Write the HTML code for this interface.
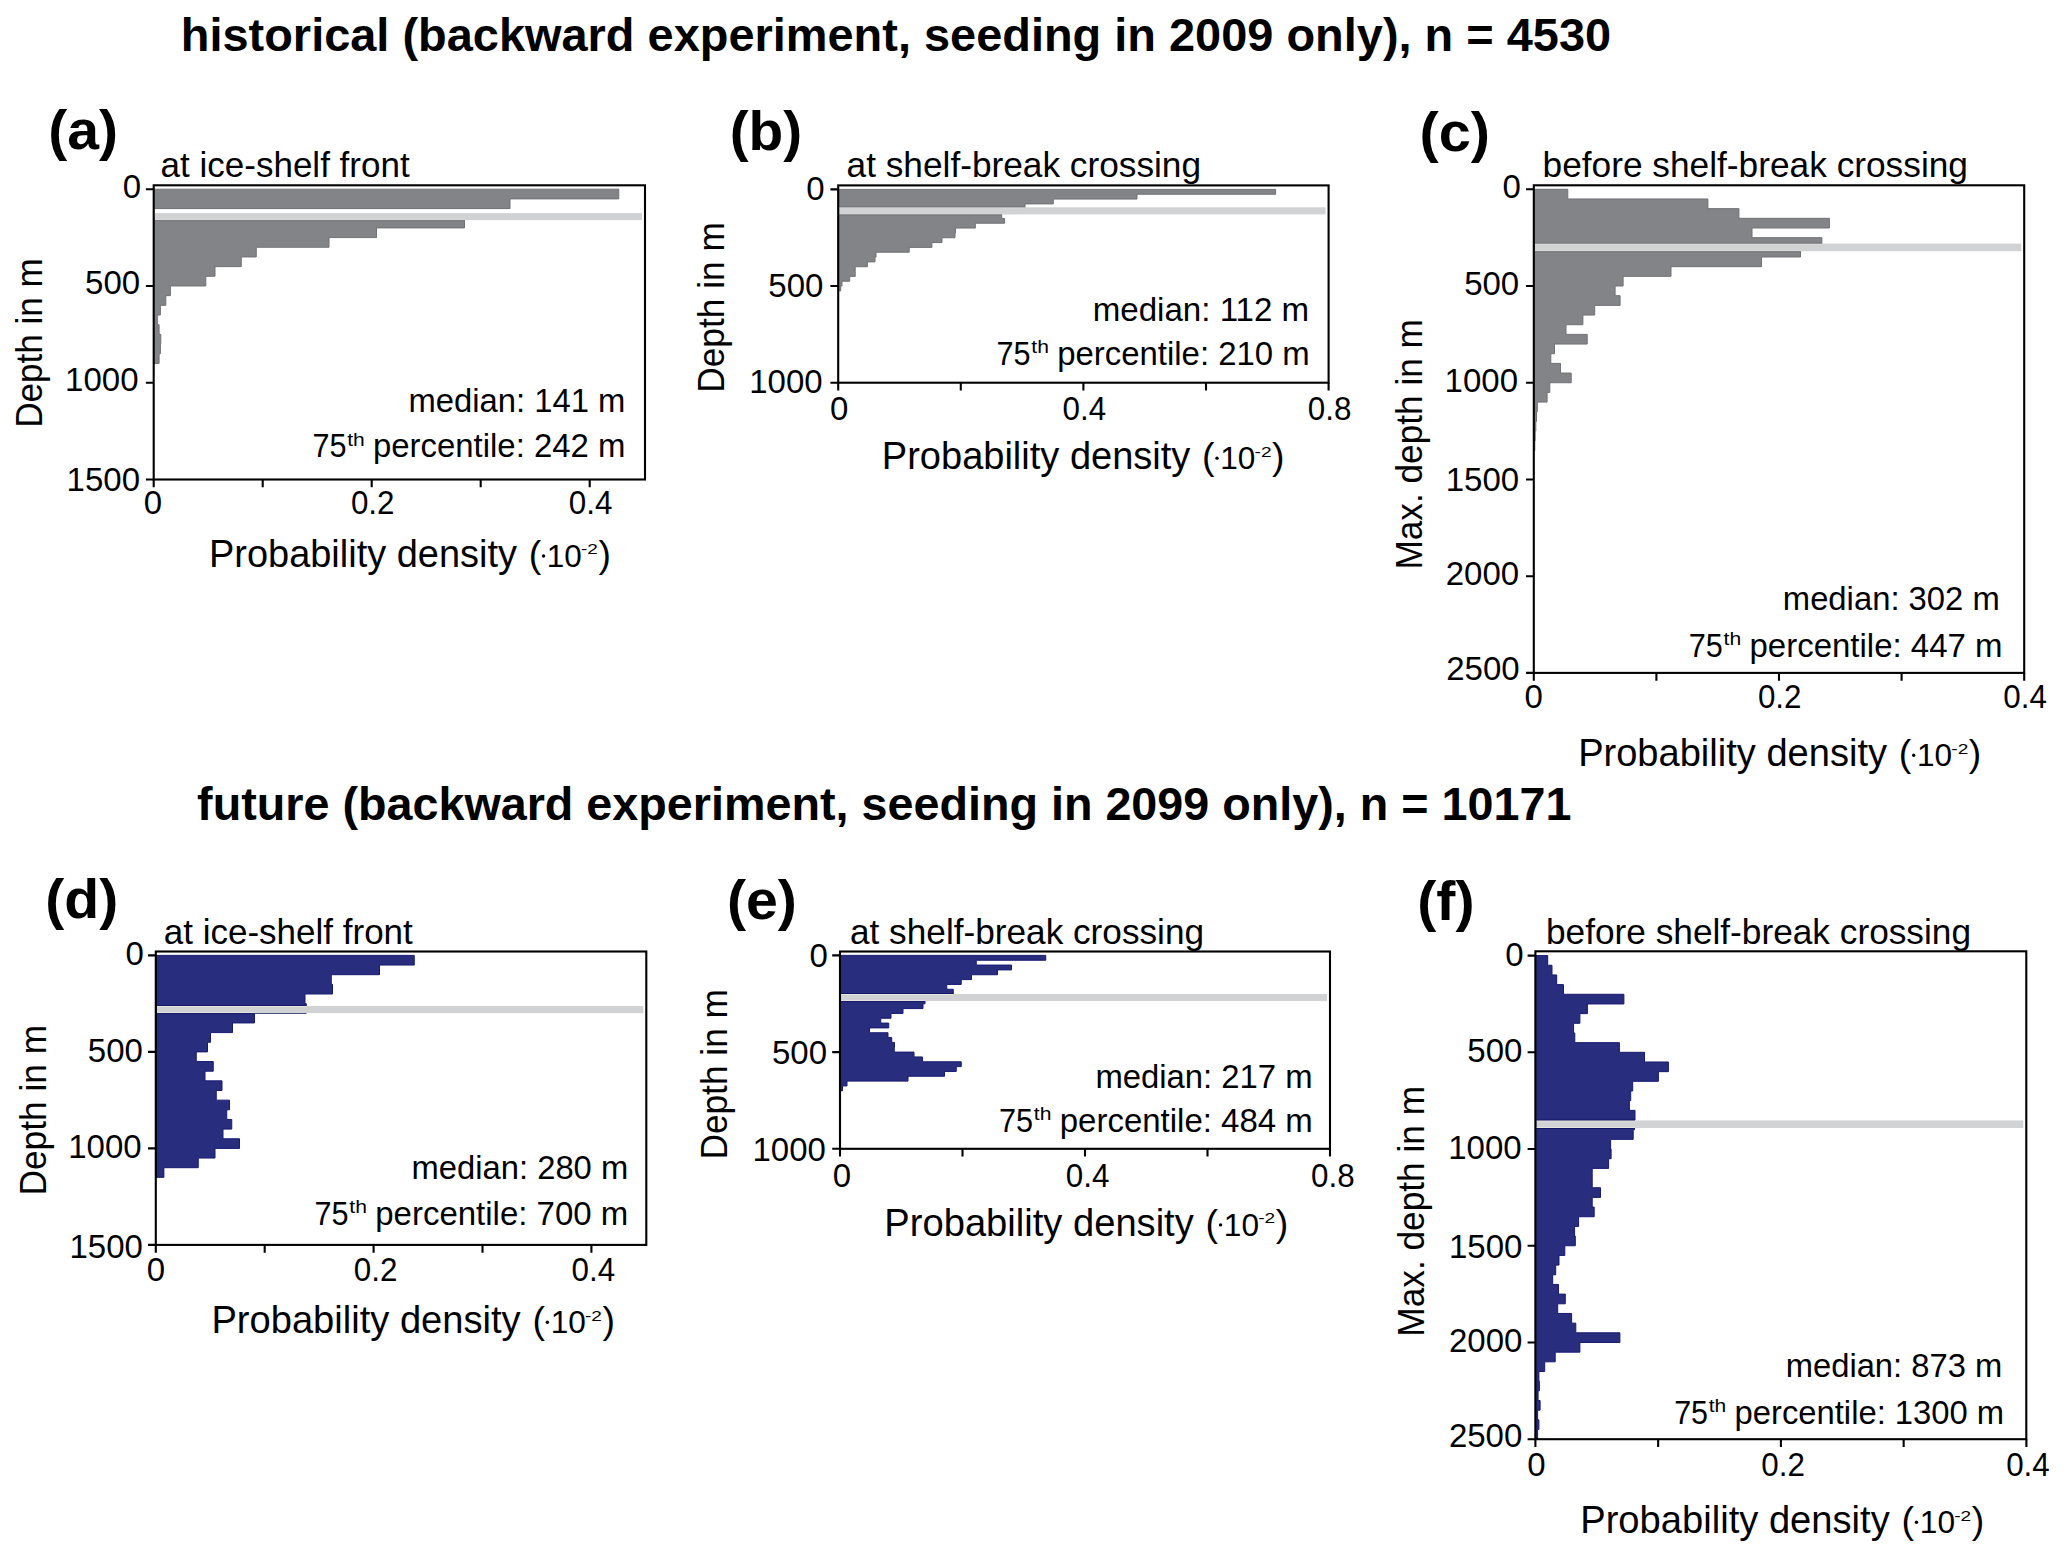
<!DOCTYPE html>
<html><head><meta charset="utf-8"><title>Depth histograms</title>
<style>
html,body{margin:0;padding:0;background:#fff;}
body{width:2067px;height:1560px;overflow:hidden;}
svg{display:block;}
text{font-family:"Liberation Sans", sans-serif;fill:#000;}
</style></head>
<body>
<svg width="2067" height="1560" viewBox="0 0 2067 1560">
<rect width="2067" height="1560" fill="#fff"/>
<path fill="#838488" stroke="#707175" stroke-width="1" stroke-linejoin="miter" d="M153.7 189.2H618.75V198.88H510V208.55H153.7V218.23H464.5V227.91H376.5V237.58H329V247.26H256.25V256.94H241.25V266.61H215V276.29H205.8V285.97H170.4V295.64H165.8V305.32H160.4V315H157.3V324.67H159.1V334.35H160.8V344.03H160.4V353.7H159.1V363.38H153.7Z"/>
<rect x="154.7" y="213.1" width="487.3" height="7" fill="#d1d2d4"/>
<rect x="154.7" y="219.1" width="309.8" height="1" fill="#dcdcdc"/>
<rect x="154.7" y="220.1" width="309.8" height="1" fill="#76777b"/>
<rect x="153.7" y="185.3" width="491.3" height="294.2" fill="none" stroke="#000" stroke-width="2.1"/>
<path fill="none" stroke="#000" stroke-width="2.1" d="M145.9 189.2H153.7M145.9 285.97H153.7M145.9 382.73H153.7M145.9 479.5H153.7M153.7 479.5V487.3M262.7 479.5V487.3M371.7 479.5V487.3M480.7 479.5V487.3M589.7 479.5V487.3"/>
<text x="141" y="197.95" font-size="33" text-anchor="end">0</text>
<text x="140.1" y="294.45" font-size="33" text-anchor="end">500</text>
<text x="138.5" y="391.45" font-size="33" text-anchor="end">1000</text>
<text x="140" y="490.6" font-size="33" text-anchor="end">1500</text>
<text x="152.95" y="514" font-size="33" text-anchor="middle">0</text>
<text x="372.7" y="514" font-size="33" text-anchor="middle" textLength="43.6" lengthAdjust="spacingAndGlyphs">0.2</text>
<text x="590.6" y="514" font-size="33" text-anchor="middle" textLength="43.6" lengthAdjust="spacingAndGlyphs">0.4</text>
<path fill="#838488" stroke="#707175" stroke-width="1" stroke-linejoin="miter" d="M838.2 189.4H1275.6V194.23H1137V199.07H1053.3V203.9H1025V208.73H1010V213.56H1001.7V218.4H1004.6V223.23H975.3V228.06H955.5V232.89H955V237.72H942V242.56H931.9V247.39H909.2V252.22H876V257.06H875V261.89H867.4V266.72H855.2V271.55H855.2V276.38H849.7V281.22H842V286.05H840.7V290.88H838.2Z"/>
<rect x="839.2" y="207.3" width="486.4" height="7.1" fill="#d1d2d4"/>
<rect x="839.2" y="207.3" width="185.8" height="1" fill="#dcdcdc"/>
<rect x="839.2" y="206.3" width="185.8" height="1" fill="#76777b"/>
<rect x="839.2" y="213.4" width="162.5" height="1" fill="#dcdcdc"/>
<rect x="839.2" y="214.4" width="162.5" height="1" fill="#76777b"/>
<rect x="838.2" y="185.4" width="490.4" height="197.3" fill="none" stroke="#000" stroke-width="2.1"/>
<path fill="none" stroke="#000" stroke-width="2.1" d="M830.4 189.4H838.2M830.4 286.05H838.2M830.4 382.7H838.2M838.2 382.7V390.5M960.8 382.7V390.5M1083.4 382.7V390.5M1206 382.7V390.5M1328.6 382.7V390.5"/>
<text x="824.6" y="200.4" font-size="33" text-anchor="end">0</text>
<text x="823.4" y="297.15" font-size="33" text-anchor="end">500</text>
<text x="822.6" y="393.35" font-size="33" text-anchor="end">1000</text>
<text x="839.15" y="419.8" font-size="33" text-anchor="middle">0</text>
<text x="1084.3" y="419.8" font-size="33" text-anchor="middle" textLength="43.6" lengthAdjust="spacingAndGlyphs">0.4</text>
<text x="1329.6" y="419.8" font-size="33" text-anchor="middle" textLength="43.6" lengthAdjust="spacingAndGlyphs">0.8</text>
<path fill="#838488" stroke="#707175" stroke-width="1" stroke-linejoin="miter" d="M1533.8 189.3H1567.8V198.97H1707.9V208.64H1738.9V218.32H1829.4V227.99H1752V237.66H1821.9V247.33H1800.5V257H1761.5V266.68H1671V276.35H1623.1V286.02H1615.1V295.69H1620.1V305.36H1594.7V315.04H1582.9V324.71H1566V334.38H1587.2V344.05H1554.5V353.72H1550.8V363.4H1560.5V373.07H1571.2V382.74H1549.8V392.41H1547.1V402.08H1537.3V411.76H1536.5V421.43H1535.8V431.1H1535.2V440.77H1534.8V450.44H1533.8Z"/>
<rect x="1534.8" y="243.6" width="486.4" height="7.6" fill="#d1d2d4"/>
<rect x="1534.8" y="243.6" width="287.1" height="1" fill="#dcdcdc"/>
<rect x="1534.8" y="242.6" width="287.1" height="1" fill="#76777b"/>
<rect x="1534.8" y="250.2" width="265.7" height="1" fill="#dcdcdc"/>
<rect x="1534.8" y="251.2" width="265.7" height="1" fill="#76777b"/>
<rect x="1533.8" y="185.3" width="490.4" height="487.6" fill="none" stroke="#000" stroke-width="2.1"/>
<path fill="none" stroke="#000" stroke-width="2.1" d="M1526 189.3H1533.8M1526 286.02H1533.8M1526 382.74H1533.8M1526 479.46H1533.8M1526 576.18H1533.8M1526 672.9H1533.8M1533.8 672.9V680.7M1656.4 672.9V680.7M1779 672.9V680.7M1901.6 672.9V680.7M2024.2 672.9V680.7"/>
<text x="1520.9" y="198.3" font-size="33" text-anchor="end">0</text>
<text x="1519.2" y="295.1" font-size="33" text-anchor="end">500</text>
<text x="1518" y="391.9" font-size="33" text-anchor="end">1000</text>
<text x="1519.2" y="491.25" font-size="33" text-anchor="end">1500</text>
<text x="1519.2" y="585.1" font-size="33" text-anchor="end">2000</text>
<text x="1519.7" y="679.7" font-size="33" text-anchor="end">2500</text>
<text x="1533.7" y="708.4" font-size="33" text-anchor="middle">0</text>
<text x="1779.7" y="708.4" font-size="33" text-anchor="middle" textLength="43.6" lengthAdjust="spacingAndGlyphs">0.2</text>
<text x="2025.1" y="708.4" font-size="33" text-anchor="middle" textLength="43.6" lengthAdjust="spacingAndGlyphs">0.4</text>
<path fill="#282d7e" stroke="#181a70" stroke-width="1" stroke-linejoin="miter" d="M155.8 955.4H414.25V965.05H379.5V974.7H331.25V984.35H332.5V994H305V1003.65H306.25V1013.3H254.5V1022.95H232.5V1032.6H210.5V1042.25H207.5V1051.9H196.25V1061.55H213.25V1071.2H205V1080.85H222V1090.5H216.25V1100.15H229.5V1109.8H226.75V1119.45H231.75V1129.1H223V1138.75H239.5V1148.4H215V1158.05H198.25V1167.7H163.9V1177.35H155.8Z"/>
<rect x="156.8" y="1005.9" width="486.5" height="7.2" fill="#d1d2d4"/>
<rect x="156.8" y="1005.9" width="149.45" height="1" fill="#e6e6e0"/>
<rect x="156.8" y="1004.9" width="149.45" height="1" fill="#14166c"/>
<rect x="156.8" y="1012.1" width="97.7" height="1" fill="#e6e6e0"/>
<rect x="156.8" y="1013.1" width="97.7" height="1" fill="#14166c"/>
<rect x="155.8" y="951.5" width="490.5" height="293.4" fill="none" stroke="#000" stroke-width="2.1"/>
<path fill="none" stroke="#000" stroke-width="2.1" d="M148 955.4H155.8M148 1051.9H155.8M148 1148.4H155.8M148 1244.9H155.8M155.8 1244.9V1252.7M264.7 1244.9V1252.7M373.6 1244.9V1252.7M482.5 1244.9V1252.7M591.4 1244.9V1252.7"/>
<text x="143.9" y="964.65" font-size="33" text-anchor="end">0</text>
<text x="142.9" y="1061.65" font-size="33" text-anchor="end">500</text>
<text x="141.7" y="1158.4" font-size="33" text-anchor="end">1000</text>
<text x="142.9" y="1257.75" font-size="33" text-anchor="end">1500</text>
<text x="155.85" y="1281.3" font-size="33" text-anchor="middle">0</text>
<text x="375.65" y="1281.3" font-size="33" text-anchor="middle" textLength="43.6" lengthAdjust="spacingAndGlyphs">0.2</text>
<text x="593.3" y="1281.3" font-size="33" text-anchor="middle" textLength="43.6" lengthAdjust="spacingAndGlyphs">0.4</text>
<path fill="#282d7e" stroke="#181a70" stroke-width="1" stroke-linejoin="miter" d="M840 955.4H1045.75V960.24H976.25V965.07H1011.5V969.9H997.5V974.74H971.5V979.58H961.25V984.41H946.75V989.25H953.25V994.08H950V998.91H925V1003.75H923V1008.59H903V1013.42H891V1018.25H880.75V1023.09H888.75V1027.92H869.5V1032.76H888V1037.6H891.75V1042.43H894.5V1047.27H894.25V1052.1H914V1056.93H922.5V1061.77H961.25V1066.61H956.25V1071.44H944.5V1076.28H908V1081.11H847V1085.94H842.5V1090.78H840Z"/>
<rect x="841" y="994" width="486" height="7.1" fill="#d1d2d4"/>
<rect x="841" y="994" width="112.25" height="1" fill="#e6e6e0"/>
<rect x="841" y="993" width="112.25" height="1" fill="#14166c"/>
<rect x="841" y="1000.1" width="84" height="1" fill="#e6e6e0"/>
<rect x="841" y="1001.1" width="84" height="1" fill="#14166c"/>
<rect x="840" y="951.5" width="490" height="197.3" fill="none" stroke="#000" stroke-width="2.1"/>
<path fill="none" stroke="#000" stroke-width="2.1" d="M832.2 955.4H840M832.2 1052.1H840M832.2 1148.8H840M840 1148.8V1156.6M962.5 1148.8V1156.6M1085 1148.8V1156.6M1207.5 1148.8V1156.6M1330 1148.8V1156.6"/>
<text x="827.9" y="967.25" font-size="33" text-anchor="end">0</text>
<text x="827" y="1064.15" font-size="33" text-anchor="end">500</text>
<text x="825.9" y="1160.75" font-size="33" text-anchor="end">1000</text>
<text x="842" y="1187.4" font-size="33" text-anchor="middle">0</text>
<text x="1087.6" y="1187.4" font-size="33" text-anchor="middle" textLength="43.6" lengthAdjust="spacingAndGlyphs">0.4</text>
<text x="1332.9" y="1187.4" font-size="33" text-anchor="middle" textLength="43.6" lengthAdjust="spacingAndGlyphs">0.8</text>
<path fill="#282d7e" stroke="#181a70" stroke-width="1" stroke-linejoin="miter" d="M1535.4 955.6H1547.7V965.27H1552V974.94H1556.7V984.62H1563.5V994.29H1623.9V1003.96H1587.4V1013.63H1579.9V1023.3H1573.6V1032.98H1574.8V1042.65H1619.4V1052.32H1644.5V1061.99H1668.4V1071.66H1658.4V1081.34H1632.7V1091.01H1630.7V1100.68H1629.4V1110.35H1635V1120.02H1634.5V1129.7H1633.2V1139.37H1610.6V1149.04H1611.1V1158.71H1608.6V1168.38H1592.2V1178.06H1592.2V1187.73H1600.5V1197.4H1592.2V1207.07H1594.2V1216.74H1578.6V1226.42H1574.6V1236.09H1575.3V1245.76H1564.8V1255.43H1559V1265.1H1555.7V1274.78H1552.7V1284.45H1558.5V1294.12H1565.3V1303.79H1557.7V1313.46H1571.6V1323.14H1575.8V1332.81H1619.9V1342.48H1579.9V1352.15H1555.2V1361.82H1544.7V1371.5H1538.9V1381.17H1539.4V1390.84H1538.1V1400.51H1540.1V1410.18H1537.6V1419.86H1538.9V1429.53H1537.6V1439.2H1535.4Z"/>
<rect x="1536.4" y="1120.4" width="486.9" height="7.6" fill="#d1d2d4"/>
<rect x="1536.4" y="1120.4" width="98.6" height="1" fill="#e6e6e0"/>
<rect x="1536.4" y="1119.4" width="98.6" height="1" fill="#14166c"/>
<rect x="1536.4" y="1127" width="98.1" height="1" fill="#e6e6e0"/>
<rect x="1536.4" y="1128" width="98.1" height="1" fill="#14166c"/>
<rect x="1535.4" y="951.3" width="490.9" height="487.9" fill="none" stroke="#000" stroke-width="2.1"/>
<path fill="none" stroke="#000" stroke-width="2.1" d="M1527.6 955.6H1535.4M1527.6 1052.32H1535.4M1527.6 1149.04H1535.4M1527.6 1245.76H1535.4M1527.6 1342.48H1535.4M1527.6 1439.2H1535.4M1535.4 1439.2V1447M1658.15 1439.2V1447M1780.9 1439.2V1447M1903.65 1439.2V1447M2026.4 1439.2V1447"/>
<text x="1523.5" y="965.55" font-size="33" text-anchor="end">0</text>
<text x="1522.4" y="1062.15" font-size="33" text-anchor="end">500</text>
<text x="1521.7" y="1158.75" font-size="33" text-anchor="end">1000</text>
<text x="1522.4" y="1258.45" font-size="33" text-anchor="end">1500</text>
<text x="1522.4" y="1352.15" font-size="33" text-anchor="end">2000</text>
<text x="1522.3" y="1446.55" font-size="33" text-anchor="end">2500</text>
<text x="1536.55" y="1475.7" font-size="33" text-anchor="middle">0</text>
<text x="1783.15" y="1475.7" font-size="33" text-anchor="middle" textLength="43.6" lengthAdjust="spacingAndGlyphs">0.2</text>
<text x="2027.95" y="1475.7" font-size="33" text-anchor="middle" textLength="43.6" lengthAdjust="spacingAndGlyphs">0.4</text>
<g transform="translate(180.79 51.3) scale(1.0026 1)"><text x="0" y="0" font-size="46.8" font-weight="bold">historical (backward experiment, seeding in 2009 only), n = 4530</text></g>
<g transform="translate(197.1 819.75) scale(0.9979 1)"><text x="0" y="0" font-size="46.8" font-weight="bold">future (backward experiment, seeding in 2099 only), n = 10171</text></g>
<g transform="translate(48.21 149.23) scale(1.0290 1)"><text x="0" y="0" font-size="55.5" font-weight="bold">(a)</text></g>
<g transform="translate(729.63 149.63) scale(1.0246 1)"><text x="0" y="0" font-size="55.5" font-weight="bold">(b)</text></g>
<g transform="translate(1419.48 150.63) scale(1.0403 1)"><text x="0" y="0" font-size="55.5" font-weight="bold">(c)</text></g>
<g transform="translate(45.21 918.13) scale(1.0308 1)"><text x="0" y="0" font-size="55.5" font-weight="bold">(d)</text></g>
<g transform="translate(726.9 918.53) scale(1.0323 1)"><text x="0" y="0" font-size="55.5" font-weight="bold">(e)</text></g>
<g transform="translate(1417.2 920.03) scale(1.0340 1)"><text x="0" y="0" font-size="55.5" font-weight="bold">(f)</text></g>
<g transform="translate(160.6 177) scale(1.0004 1)"><text x="0" y="0" font-size="35">at ice-shelf front</text></g>
<g transform="translate(846.59 176.5) scale(1.0069 1)"><text x="0" y="0" font-size="35">at shelf-break crossing</text></g>
<g transform="translate(1542.58 176.9) scale(1.0081 1)"><text x="0" y="0" font-size="35">before shelf-break crossing</text></g>
<g transform="translate(163.8 944) scale(1.0000 1)"><text x="0" y="0" font-size="35">at ice-shelf front</text></g>
<g transform="translate(849.99 943.9) scale(1.0060 1)"><text x="0" y="0" font-size="35">at shelf-break crossing</text></g>
<g transform="translate(1545.99 944) scale(1.0072 1)"><text x="0" y="0" font-size="35">before shelf-break crossing</text></g>
<g transform="translate(42.1 427.85) rotate(-90) scale(0.9489 1)"><text x="0" y="0" font-size="37">Depth in m</text></g>
<g transform="translate(724.4 392.76) rotate(-90) scale(0.9540 1)"><text x="0" y="0" font-size="37">Depth in m</text></g>
<g transform="translate(1421.5 569.55) rotate(-90) scale(0.9516 1)"><text x="0" y="0" font-size="37">Max. depth in m</text></g>
<g transform="translate(45.5 1195.56) rotate(-90) scale(0.9540 1)"><text x="0" y="0" font-size="37">Depth in m</text></g>
<g transform="translate(726.9 1159.56) rotate(-90) scale(0.9534 1)"><text x="0" y="0" font-size="37">Depth in m</text></g>
<g transform="translate(1424 1336.66) rotate(-90) scale(0.9531 1)"><text x="0" y="0" font-size="37">Max. depth in m</text></g>
<g transform="translate(212.2 566.6) scale(0.9992 1)"><text x="-3.16" y="0" font-size="38.5" textLength="308.1" lengthAdjust="spacingAndGlyphs">Probability density</text><text x="316.7" y="0" font-size="37.4">(</text><circle cx="331.6" cy="-10.6" r="1.7" fill="#000"/><text x="334.9" y="0" font-size="31.5">10</text><text x="369.1" y="-12.2" font-size="15" textLength="16.9" lengthAdjust="spacingAndGlyphs">-2</text><text x="386.6" y="0" font-size="37.4">)</text></g>
<g transform="translate(885 468.75) scale(1.0013 1)"><text x="-3.16" y="0" font-size="38.5" textLength="308.1" lengthAdjust="spacingAndGlyphs">Probability density</text><text x="316.7" y="0" font-size="37.4">(</text><circle cx="331.6" cy="-10.6" r="1.7" fill="#000"/><text x="334.9" y="0" font-size="31.5">10</text><text x="369.1" y="-12.2" font-size="15" textLength="16.9" lengthAdjust="spacingAndGlyphs">-2</text><text x="386.6" y="0" font-size="37.4">)</text></g>
<g transform="translate(1581.3 765.8) scale(1.0025 1)"><text x="-3.16" y="0" font-size="38.5" textLength="308.1" lengthAdjust="spacingAndGlyphs">Probability density</text><text x="316.7" y="0" font-size="37.4">(</text><circle cx="331.6" cy="-10.6" r="1.7" fill="#000"/><text x="334.9" y="0" font-size="31.5">10</text><text x="369.1" y="-12.2" font-size="15" textLength="16.9" lengthAdjust="spacingAndGlyphs">-2</text><text x="386.6" y="0" font-size="37.4">)</text></g>
<g transform="translate(214.6 1332.8) scale(1.0035 1)"><text x="-3.16" y="0" font-size="38.5" textLength="308.1" lengthAdjust="spacingAndGlyphs">Probability density</text><text x="316.7" y="0" font-size="37.4">(</text><circle cx="331.6" cy="-10.6" r="1.7" fill="#000"/><text x="334.9" y="0" font-size="31.5">10</text><text x="369.1" y="-12.2" font-size="15" textLength="16.9" lengthAdjust="spacingAndGlyphs">-2</text><text x="386.6" y="0" font-size="37.4">)</text></g>
<g transform="translate(887.5 1235.5) scale(1.0044 1)"><text x="-3.16" y="0" font-size="38.5" textLength="308.1" lengthAdjust="spacingAndGlyphs">Probability density</text><text x="316.7" y="0" font-size="37.4">(</text><circle cx="331.6" cy="-10.6" r="1.7" fill="#000"/><text x="334.9" y="0" font-size="31.5">10</text><text x="369.1" y="-12.2" font-size="15" textLength="16.9" lengthAdjust="spacingAndGlyphs">-2</text><text x="386.6" y="0" font-size="37.4">)</text></g>
<g transform="translate(1583.4 1532.9) scale(1.0045 1)"><text x="-3.16" y="0" font-size="38.5" textLength="308.1" lengthAdjust="spacingAndGlyphs">Probability density</text><text x="316.7" y="0" font-size="37.4">(</text><circle cx="331.6" cy="-10.6" r="1.7" fill="#000"/><text x="334.9" y="0" font-size="31.5">10</text><text x="369.1" y="-12.2" font-size="15" textLength="16.9" lengthAdjust="spacingAndGlyphs">-2</text><text x="386.6" y="0" font-size="37.4">)</text></g>
<g transform="translate(408.51 412.1) scale(0.9939 1)"><text x="0" y="0" font-size="33">median: 141 m</text></g>
<g transform="translate(1092.69 320.9) scale(1.0033 1)"><text x="0" y="0" font-size="33">median: 112 m</text></g>
<g transform="translate(1782.81 610.2) scale(0.9944 1)"><text x="0" y="0" font-size="33">median: 302 m</text></g>
<g transform="translate(411.51 1179.2) scale(0.9930 1)"><text x="0" y="0" font-size="33">median: 280 m</text></g>
<g transform="translate(1095.41 1088.4) scale(0.9953 1)"><text x="0" y="0" font-size="33">median: 217 m</text></g>
<g transform="translate(1785.72 1377.1) scale(0.9921 1)"><text x="0" y="0" font-size="33">median: 873 m</text></g>
<g transform="translate(314 457.3) scale(0.9974 1)"><text x="-1.57" y="0" font-size="33" textLength="34.1" lengthAdjust="spacingAndGlyphs">75</text><text x="33.3" y="-11.8" font-size="18.5" textLength="17.6" lengthAdjust="spacingAndGlyphs">th</text><text x="59.2" y="0" font-size="33">percentile: 242 m</text></g>
<g transform="translate(998.1 364.8) scale(0.9977 1)"><text x="-1.57" y="0" font-size="33" textLength="34.1" lengthAdjust="spacingAndGlyphs">75</text><text x="33.3" y="-11.8" font-size="18.5" textLength="17.6" lengthAdjust="spacingAndGlyphs">th</text><text x="59.2" y="0" font-size="33">percentile: 210 m</text></g>
<g transform="translate(1690.3 656.6) scale(0.9997 1)"><text x="-1.57" y="0" font-size="33" textLength="34.1" lengthAdjust="spacingAndGlyphs">75</text><text x="33.3" y="-11.8" font-size="18.5" textLength="17.6" lengthAdjust="spacingAndGlyphs">th</text><text x="59.2" y="0" font-size="33">percentile: 447 m</text></g>
<g transform="translate(316.1 1224.8) scale(0.9997 1)"><text x="-1.57" y="0" font-size="33" textLength="34.1" lengthAdjust="spacingAndGlyphs">75</text><text x="33.3" y="-11.8" font-size="18.5" textLength="17.6" lengthAdjust="spacingAndGlyphs">th</text><text x="59.2" y="0" font-size="33">percentile: 700 m</text></g>
<g transform="translate(1000.6 1131.5) scale(0.9994 1)"><text x="-1.57" y="0" font-size="33" textLength="34.1" lengthAdjust="spacingAndGlyphs">75</text><text x="33.3" y="-11.8" font-size="18.5" textLength="17.6" lengthAdjust="spacingAndGlyphs">th</text><text x="59.2" y="0" font-size="33">percentile: 484 m</text></g>
<g transform="translate(1675.7 1423.6) scale(0.9939 1)"><text x="-1.57" y="0" font-size="33" textLength="34.1" lengthAdjust="spacingAndGlyphs">75</text><text x="33.3" y="-11.8" font-size="18.5" textLength="17.6" lengthAdjust="spacingAndGlyphs">th</text><text x="59.2" y="0" font-size="33">percentile: 1300 m</text></g>
</svg>
</body></html>
